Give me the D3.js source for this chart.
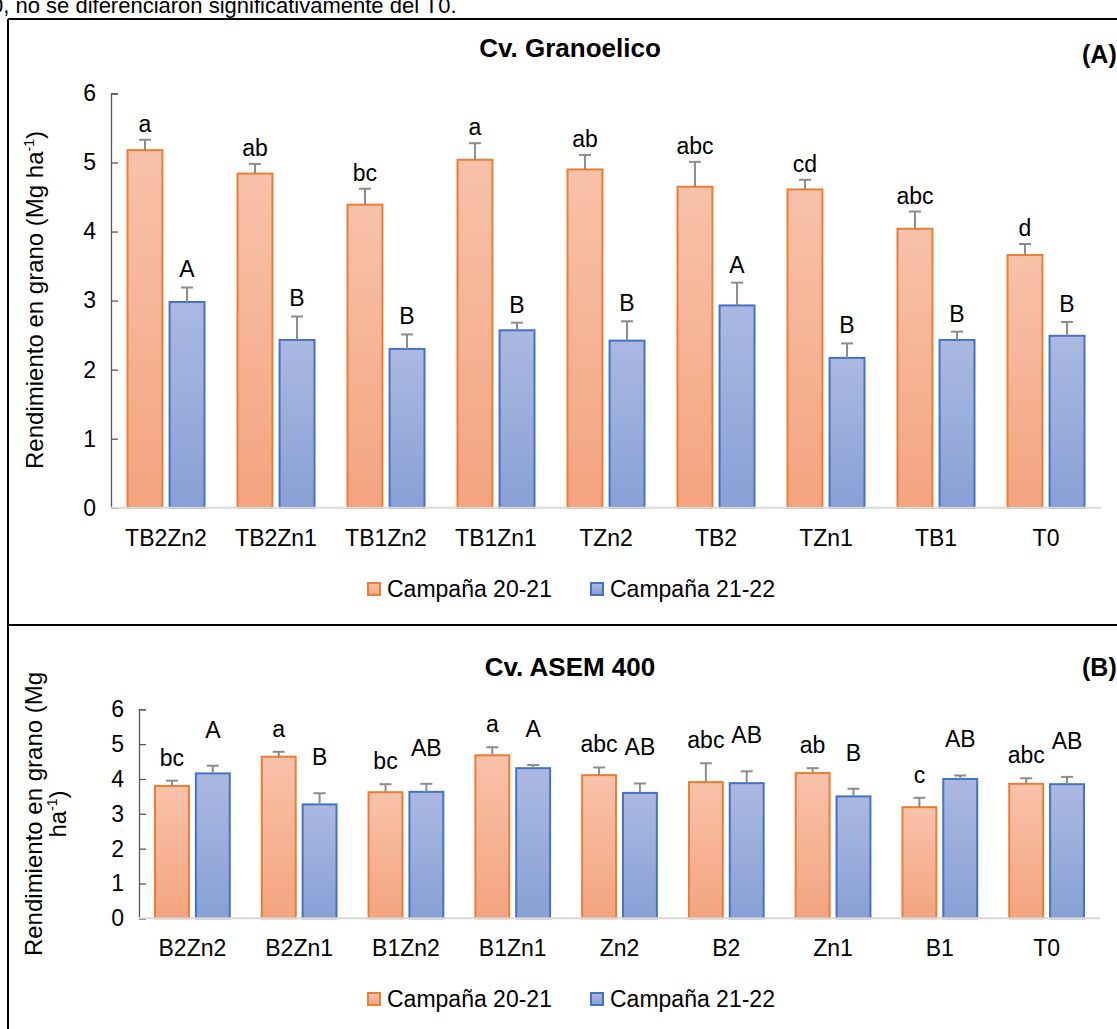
<!DOCTYPE html>
<html>
<head>
<meta charset="utf-8">
<script src="https://cdn.jsdelivr.net/npm/d3@7"></script>
<style>
  body { margin: 0; background: #fff; }
  svg { display: block; font-family: "Liberation Sans", Arial, sans-serif; }
</style>
</head>
<body>
<div id="chart"></div>
<script>
// --- data ---
var seriesNames = ["Campaña 20-21", "Campaña 21-22"];

// (A) Cv. Granoelico
var catsA = ["TB2Zn2", "TB2Zn1", "TB1Zn2", "TB1Zn1", "TZn2", "TB2", "TZn1", "TB1", "T0"];
var yieldA1 = [5.18, 4.84, 4.39, 5.04, 4.90, 4.65, 4.61, 4.04, 3.66];
var errA1   = [0.15, 0.14, 0.23, 0.24, 0.21, 0.36, 0.14, 0.25, 0.16];
var yieldA2 = [2.98, 2.43, 2.30, 2.57, 2.42, 2.93, 2.17, 2.43, 2.49];
var errA2   = [0.21, 0.34, 0.21, 0.11, 0.28, 0.33, 0.21, 0.12, 0.20];
var lettersA1 = ["a", "ab", "bc", "a", "ab", "abc", "cd", "abc", "d"];
var lettersA2 = ["A", "B", "B", "B", "B", "A", "B", "B", "B"];

// (B) Cv. ASEM 400
var catsB = ["B2Zn2", "B2Zn1", "B1Zn2", "B1Zn1", "Zn2", "B2", "Zn1", "B1", "T0"];
var yieldB1 = [3.80, 4.64, 3.62, 4.68, 4.11, 3.91, 4.17, 3.19, 3.86];
var errB1   = [0.15, 0.14, 0.23, 0.23, 0.22, 0.54, 0.14, 0.27, 0.16];
var yieldB2 = [4.16, 3.27, 3.63, 4.31, 3.60, 3.88, 3.50, 4.00, 3.85];
var errB2   = [0.22, 0.32, 0.23, 0.09, 0.27, 0.34, 0.22, 0.10, 0.21];
var lettersB1 = ["bc", "a", "bc", "a", "abc", "abc", "ab", "c", "abc"];
var lettersB2 = ["A", "B", "AB", "A", "AB", "AB", "B", "AB", "AB"];

var yTicks = [0, 1, 2, 3, 4, 5, 6];

var W = 1117, H = 1029;
var FS = 23;
var colors = [
    {stroke: "#ED7D31", top: "#F8C2AA", bottom: "#F4A47F"},
    {stroke: "#4472C4", top: "#ABB9E1", bottom: "#88A0D6"}
];

var svg = d3.select("#chart").append("svg")
        .attr("width", W)
        .attr("height", H);

var defs = svg.append("defs");
colors.forEach(function (c, i) {
    var g = defs.append("linearGradient")
            .attr("id", "grad" + i)
            .attr("x1", 0).attr("y1", 0).attr("x2", 0).attr("y2", 1);
    g.append("stop").attr("offset", "0%").attr("stop-color", c.top);
    g.append("stop").attr("offset", "100%").attr("stop-color", c.bottom);
});

// text line of the document above the figure (clipped by the crop)
svg.append("text")
        .attr("x", -9).attr("y", 13)
        .attr("font-size", 22)
        .text("0, no se diferenciaron significativamente del T0.");

// frame
var frame = svg.append("g").attr("stroke", "#000").attr("stroke-width", 2).attr("fill", "none");
frame.append("line").attr("x1", 8).attr("x2", 8).attr("y1", 19).attr("y2", H);
frame.append("line").attr("x1", 8).attr("x2", W).attr("y1", 19).attr("y2", 19);
frame.append("line").attr("x1", 8).attr("x2", W).attr("y1", 625).attr("y2", 625);

function drawPanel(p) {
    var g = svg.append("g");

    var x0 = d3.scaleBand().domain(p.cats).range([p.left, p.right])
            .paddingInner(0.3).paddingOuter(0.15);
    var x1 = d3.scaleBand().domain([0, 1]).range([0, x0.bandwidth()]).paddingInner(0.17);
    var y = d3.scaleLinear().domain([0, 6]).range([p.bottom, p.top]);

    // title and panel letter
    g.append("text")
            .attr("x", 570).attr("y", p.titleY)
            .attr("text-anchor", "middle")
            .attr("font-size", 26).attr("font-weight", "bold")
            .text(p.title);
    g.append("text")
            .attr("x", 1082).attr("y", p.tagY)
            .attr("font-size", 25).attr("font-weight", "bold")
            .text(p.tag);

    // y axis
    var yAxis = g.append("g")
            .attr("transform", "translate(" + p.left + ",0)")
            .call(d3.axisLeft(y).tickValues(yTicks).tickFormat(d3.format("d"))
                    .tickSizeInner(-7).tickSizeOuter(-7).tickPadding(15));
    yAxis.select(".domain").attr("stroke", "#595959").attr("stroke-width", 1.3);
    yAxis.selectAll(".tick line").attr("stroke", "#595959").attr("stroke-width", 1.3);
    yAxis.selectAll("text").attr("font-size", FS).attr("fill", "#000")
            .attr("font-family", "'Liberation Sans', Arial, sans-serif");

    // bars
    var series = [
        {vals: p.s1, err: p.e1, lab: p.l1, gap: p.gap1},
        {vals: p.s2, err: p.e2, lab: p.l2, gap: p.gap2}
    ];
    series.forEach(function (s, si) {
        var sg = g.append("g");
        var rows = p.cats.map(function (c, i) {
            return {cat: c, v: s.vals[i], e: s.err[i], lab: s.lab[i]};
        });
        sg.selectAll("rect").data(rows).enter().append("rect")
                .attr("x", function (d) { return x0(d.cat) + x1(si); })
                .attr("y", function (d) { return y(d.v); })
                .attr("width", x1.bandwidth())
                .attr("height", function (d) { return y(0) - y(d.v); })
                .attr("fill", "url(#grad" + si + ")")
                .attr("stroke", colors[si].stroke)
                .attr("stroke-width", 2);

        var cx = function (d) { return x0(d.cat) + x1(si) + x1.bandwidth() / 2; };
        sg.selectAll("line.err").data(rows).enter().append("line")
                .attr("class", "err")
                .attr("x1", cx).attr("x2", cx)
                .attr("y1", function (d) { return y(d.v); })
                .attr("y2", function (d) { return y(d.v + d.e); })
                .attr("stroke", "#8C8C8C").attr("stroke-width", 2);
        sg.selectAll("line.cap").data(rows).enter().append("line")
                .attr("class", "cap")
                .attr("x1", function (d) { return cx(d) - 6; })
                .attr("x2", function (d) { return cx(d) + 6; })
                .attr("y1", function (d) { return y(d.v + d.e); })
                .attr("y2", function (d) { return y(d.v + d.e); })
                .attr("stroke", "#8C8C8C").attr("stroke-width", 2);
        sg.selectAll("text").data(rows).enter().append("text")
                .attr("x", cx)
                .attr("y", function (d) { return y(d.v + d.e) - s.gap; })
                .attr("text-anchor", "middle")
                .attr("font-size", FS)
                .text(function (d) { return d.lab; });
    });

    // x axis
    g.append("line")
            .attr("x1", p.left).attr("x2", p.right)
            .attr("y1", y(0)).attr("y2", y(0))
            .attr("stroke", "#D9D9D9").attr("stroke-width", 2);
    g.selectAll("text.xlab").data(p.cats).enter().append("text")
            .attr("class", "xlab")
            .attr("x", function (d) { return x0(d) + x0.bandwidth() / 2; })
            .attr("y", p.bottom + 38)
            .attr("text-anchor", "middle")
            .attr("font-size", FS)
            .text(function (d) { return d; });

    // y title
    var yt = g.append("text")
            .attr("transform", "translate(" + p.ytX + "," + p.ytY + ") rotate(-90)")
            .attr("text-anchor", "middle")
            .attr("font-size", 24);
    p.ytLines.forEach(function (line, li) {
        var ts = yt.append("tspan").attr("x", 0).attr("dy", li === 0 ? 0 : 24);
        ts.append("tspan").text(line[0]);
        if (line[1]) {
            ts.append("tspan").attr("font-size", 14).attr("dy", -9).text(line[1]);
            ts.append("tspan").attr("dy", 9).text(line[2]);
        }
    });

    // legend
    var lg = g.append("g").attr("transform", "translate(0," + p.legendY + ")");
    [368, 591].forEach(function (lx, i) {
        lg.append("rect")
                .attr("x", lx).attr("y", -6).attr("width", 12).attr("height", 12)
                .attr("fill", "url(#grad" + i + ")")
                .attr("stroke", colors[i].stroke).attr("stroke-width", 2);
        lg.append("text")
                .attr("x", lx + 19).attr("y", 8)
                .attr("font-size", FS)
                .text(seriesNames[i]);
    });
}

drawPanel({
    cats: catsA, s1: yieldA1, e1: errA1, s2: yieldA2, e2: errA2,
    l1: lettersA1, l2: lettersA2, gap1: 8, gap2: 10,
    left: 111, right: 1101, top: 93.5, bottom: 507.7,
    title: "Cv. Granoelico", titleY: 57, tag: "(A)", tagY: 63,
    ytX: 43, ytY: 300,
    ytLines: [["Rendimiento en grano (Mg ha", "-1", ")"]],
    legendY: 589
});

drawPanel({
    cats: catsB, s1: yieldB1, e1: errB1, s2: yieldB2, e2: errB2,
    l1: lettersB1, l2: lettersB2, gap1: 15, gap2: 28,
    left: 139, right: 1100, top: 709.3, bottom: 918.3,
    title: "Cv. ASEM 400", titleY: 676, tag: "(B)", tagY: 676,
    ytX: 42, ytY: 814,
    ytLines: [["Rendimiento en grano (Mg"], ["ha", "-1", ")"]],
    legendY: 999
});
</script>
</body>
</html>
